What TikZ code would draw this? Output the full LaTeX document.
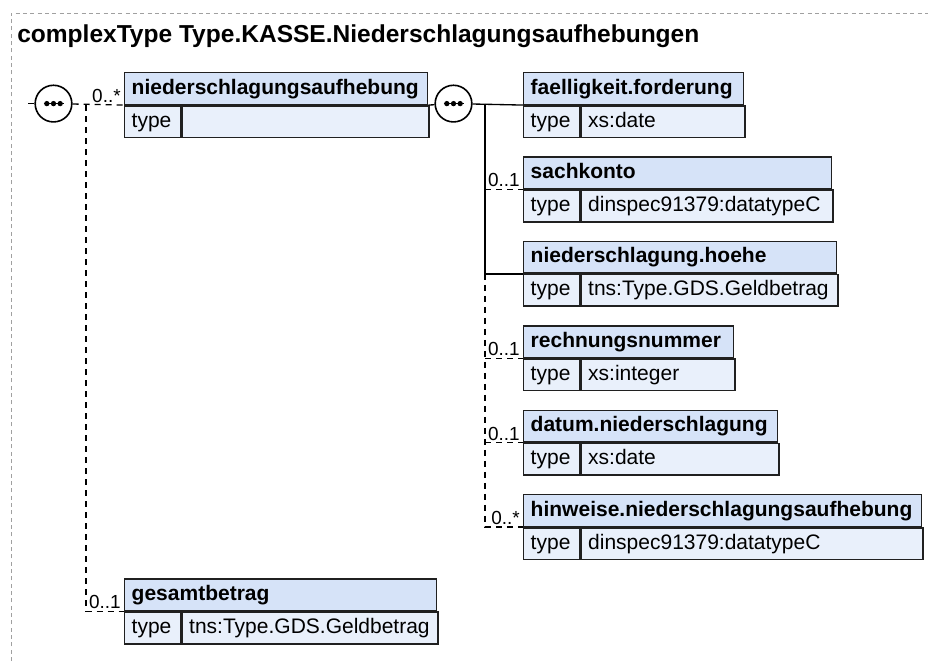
\documentclass[tikz,border=0pt]{standalone}
\usepackage{fontspec}
\setmainfont{Liberation Sans}

\definecolor{hdrfill}{HTML}{D6E3F8}
\definecolor{rowfill}{HTML}{E9F0FB}
\definecolor{boxline}{HTML}{202020}
\definecolor{framegray}{HTML}{A0A0A0}

\begin{document}
\begin{tikzpicture}[x=0.75pt, y=-0.75pt,
    hdr/.style={draw=boxline, fill=hdrfill, line width=1.1pt, anchor=north west,
        font=\bfseries\fontsize{15.75}{18}\selectfont, inner xsep=5.25pt, inner ysep=0pt,
        minimum height=23.7pt, text height=11.6pt, text depth=3.4pt, align=left},
    cell/.style={draw=boxline, fill=rowfill, line width=1.1pt, anchor=north west,
        font=\fontsize{15.75}{18}\selectfont, inner xsep=5.25pt, inner ysep=0pt,
        minimum height=23.7pt, text height=11.6pt, text depth=3.4pt, align=left},
    seq/.style={circle, draw=black, fill=white, line width=1.2pt, minimum size=27.5pt, inner sep=0pt},
    link/.style={line width=1pt},
    opt/.style={line width=1pt, dash pattern=on 4.5pt off 3.75pt},
    occ/.style={font=\fontsize{14.2}{16}\selectfont, inner sep=0pt, anchor=base east,
        xshift=-2pt, yshift=2pt}]
    \useasboundingbox (0,0) rectangle (928,661);

    % frame and title
    \draw[framegray, line width=0.75pt, dash pattern=on 3pt off 2.5pt] (11,661) -- (11,13) -- (928,13);
    \node[anchor=base west, inner sep=0pt, font=\bfseries\fontsize{18.4}{20}\selectfont] (title) at (17,42)
        {complexType Type.KASSE.Niederschlagungsaufhebungen};

    % element boxes
    \foreach \id/\x/\y/\w/\head/\val in {
        nsa/124/72/303/niederschlagungsaufhebung/{},
        faell/523/72/220/faelligkeit.forderung/xs:date,
        sach/523/156.4/308/sachkonto/dinspec91379:datatypeC,
        hoehe/523/240.8/313/niederschlagung.hoehe/tns:Type.GDS.Geldbetrag,
        rech/523/325.2/210/rechnungsnummer/xs:integer,
        datum/523/409.6/254/datum.niederschlagung/xs:date,
        hinw/523/494/398/hinweise.niederschlagungsaufhebung/dinspec91379:datatypeC,
        gesamt/124/578.4/312/gesamtbetrag/tns:Type.GDS.Geldbetrag
    } {
        \pgfmathsetmacro\hw{(\w-14)*0.75}
        \pgfmathsetmacro\vw{(\w-70)*0.75}
        \node[hdr, text width=\hw pt] (\id) at (\x,\y) {\head};
        \node[cell, text width=31.5pt] (\id-t) at (\id.south west) {type};
        \node[cell, text width=\vw pt] (\id-v) at (\id-t.north east) {\val};
    }

    % sequence compositors
    \node[seq] (lseq) at (53.5,103.6) {};
    \node[seq] (rseq) at (453.5,103.6) {};
    \foreach \s in {lseq, rseq} {
        \draw[link] ([xshift=-7.5pt]\s.center) -- ([xshift=7.5pt]\s.center);
        \foreach \d in {-5,0,5}
            \fill ([xshift=\d pt]\s.center) circle (2pt);
    }

    \coordinate (lstub) at (28,103.6);
    \coordinate (lrail) at (86,0);
    \coordinate (rrail) at (485,0);

    % left sequence
    \draw[link] (lstub) -- (lseq);
    \draw[opt] (lseq) -- (nsa.south west) node[occ] {0..*};
    \draw[opt] (nsa.south west -| lrail) -- (gesamt.south west -| lrail) -- (gesamt.south west)
        node[occ] {0..1};

    % right sequence
    \draw[link] (nsa.south east) -- (rseq);
    \draw[link] (rseq) -- (faell.south west);
    \draw[link] (rseq.east -| rrail) -- (hoehe.south west -| rrail) -- (hoehe.south west);
    \draw[opt] (sach.south west -| rrail) -- (sach.south west) node[occ] {0..1};
    \draw[opt] (hoehe.south west -| rrail) -- (hinw.south west -| rrail) -- (hinw.south west)
        node[occ] {0..*};
    \foreach \id in {rech, datum}
        \draw[opt] (\id.south west -| rrail) -- (\id.south west) node[occ] {0..1};
\end{tikzpicture}
\end{document}
